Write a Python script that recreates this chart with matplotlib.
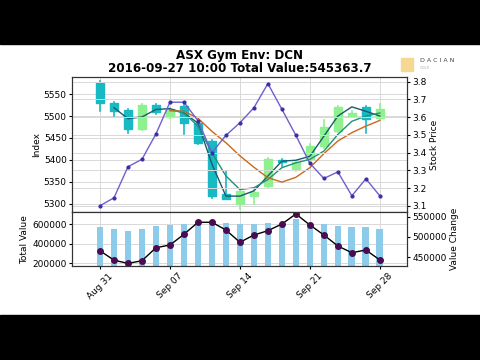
import numpy as np
import matplotlib
matplotlib.use('Agg')
import matplotlib.pyplot as plt
from matplotlib.patches import Rectangle

# trading days, Aug 31 -> Sep 28 2016
days = ['Aug 31', 'Sep 01', 'Sep 02', 'Sep 05', 'Sep 06', 'Sep 07', 'Sep 08', 'Sep 09',
        'Sep 12', 'Sep 13', 'Sep 14', 'Sep 15', 'Sep 16', 'Sep 19', 'Sep 20', 'Sep 21',
        'Sep 22', 'Sep 23', 'Sep 26', 'Sep 27', 'Sep 28']
tick_days = ['Aug 31', 'Sep 07', 'Sep 14', 'Sep 21', 'Sep 28']

# index candles (left axis)
idx_open = [5576, 5530, 5513, 5471, 5525, 5498, 5523, 5484, 5443, 5322, 5298,
            5318, 5340, 5400, 5378, 5401, 5431, 5466, 5500, 5521, 5496]
idx_close = [5530, 5511, 5471, 5525, 5510, 5515, 5484, 5439, 5317, 5311, 5329,
             5326, 5401, 5396, 5395, 5432, 5476, 5521, 5508, 5494, 5515]
idx_high = [5580, 5532, 5517, 5527, 5527, 5518, 5525, 5486, 5445, 5374, 5331,
            5330, 5403, 5401, 5398, 5435, 5490, 5523, 5512, 5523, 5527]
idx_low = [5511, 5501, 5462, 5469, 5504, 5496, 5458, 5436, 5313, 5310, 5287,
           5300, 5338, 5385, 5375, 5398, 5428, 5463, 5498, 5462, 5494]

# moving averages (start at different days)
ma_fast = [5519, 5494, 5498, 5515, 5517, 5507, 5484, 5390, 5317, 5317, 5329,
           5363, 5397, 5399, 5408, 5454, 5500, 5521, 5511, 5500]
ma_mid = [5515, 5507, 5477, 5416, 5363, 5332, 5336, 5355, 5382, 5393, 5401,
          5420, 5458, 5488, 5500, 5507]
ma_slow = [5512, 5511, 5495, 5465, 5439, 5409, 5383, 5359, 5349, 5360, 5382,
           5414, 5443, 5462, 5477, 5490]

# stock price (right axis)
price = [3.10, 3.145, 3.32, 3.362, 3.505, 3.684, 3.684, 3.58, 3.40, 3.497, 3.568,
         3.653, 3.789, 3.644, 3.497, 3.339, 3.254, 3.291, 3.156, 3.252, 3.156]

# bottom panel
total_value = [572000, 549000, 531000, 546000, 579000, 587000, 600000, 607000,
               607000, 607000, 597000, 600000, 613000, 613000, 650000, 607000,
               600000, 583000, 566000, 572000, 549000]
value_change = [466000, 443000, 435000, 441600, 473600, 480300, 506600, 536200,
                536200, 517200, 487000, 504900, 515500, 532000, 556600, 529600,
                504900, 477800, 461300, 468000, 443400]

n = len(days)
x = np.arange(n)
tick_pos = [days.index(d) for d in tick_days]

teal = '#17b9c2'
lgreen = '#8ff08f'

fig = plt.figure(figsize=(4.8, 3.6), dpi=100)

# video letterbox
fig.add_artist(Rectangle((0, 1-44/360.), 1, 44/360., transform=fig.transFigure, color='black', zorder=-5))
fig.add_artist(Rectangle((0, 0), 1, 45/360., transform=fig.transFigure, color='black', zorder=-5))

fig.text(0.5, 1-55.5/360., 'ASX Gym Env: DCN', ha='center', va='center', fontsize=8.6, fontweight='bold')
fig.text(0.5, 1-68.5/360., '2016-09-27 10:00 Total Value:545363.7', ha='center', va='center', fontsize=8.6, fontweight='bold')

# logo
fig.add_artist(Rectangle((401/480., 1-71/360.), 12/480., 13/360., transform=fig.transFigure, color='#f5d992', zorder=1))
fig.text(420/480., 1-61/360., 'D A C I A N', fontsize=4.5, color='#444444', va='center')
fig.text(420/480., 1-68/360., 'GOLD', fontsize=2.5, color='#aaaaaa', va='center')

ax1 = fig.add_axes([0.1506, 0.4103, 0.697, 0.3767])
ax2 = ax1.twinx()
ax3 = fig.add_axes([0.1506, 0.2611, 0.697, 0.1492], sharex=ax1)
ax4 = ax3.twinx()

w = 0.55
for i in range(n):
	col = lgreen if idx_close[i] >= idx_open[i] else teal
	ax1.plot([x[i], x[i]], [idx_low[i], idx_high[i]], color=col, lw=1.2, zorder=2)
	lo = min(idx_open[i], idx_close[i])
	h = abs(idx_close[i]-idx_open[i])
	ax1.add_patch(Rectangle((x[i]-w/2, lo), w, max(h, 1.5), color=col, zorder=2))

ax1.plot(x[1:], ma_fast, color='#1a5a6e', lw=1.0, zorder=3)
ax1.plot(x[5:], ma_mid, color='#22917a', lw=1.0, zorder=3)
ax1.plot(x[5:], ma_slow, color='#c8691c', lw=1.0, zorder=3)

ax1.set_ylim(5280, 5590)
ax1.set_yticks([5300, 5350, 5400, 5450, 5500, 5550])
ax1.set_ylabel('Index', fontsize=6.5, labelpad=2)
ax1.grid(True, color='#d8d8d8', lw=0.7)
ax1.tick_params(labelsize=6.5, length=2, pad=2)
plt.setp(ax1.get_xticklabels(), visible=False)

ax2.plot(x, price, color='#6f5fd0', lw=1.0, marker='o', markersize=2, markerfacecolor='#3a2fa8', markeredgecolor='#3a2fa8')
ax2.set_ylim(3.063, 3.828)
ax2.set_yticks([3.1, 3.2, 3.3, 3.4, 3.5, 3.6, 3.7, 3.8])
ax2.set_ylabel('Stock Price', fontsize=6.5, labelpad=2)
ax2.grid(True, color='#d8d8d8', lw=0.7)
ax2.tick_params(labelsize=6.5, length=2, pad=2)

ax3.bar(x, total_value, width=0.48, color='#8ccbea', zorder=2)
ax3.set_ylim(172000, 720000)
ax3.set_yticks([200000, 400000, 600000])
ax3.set_ylabel('Total Value', fontsize=6.5, labelpad=2)
ax3.grid(True, color='#d8d8d8', lw=0.7)
ax3.tick_params(labelsize=6.5, length=2, pad=2)

ax4.plot(x, value_change, color='black', lw=1.0, marker='o', markersize=4, markerfacecolor='#4a0c4e', markeredgecolor='#4a0c4e')
ax4.set_ylim(428600, 560800)
ax4.set_yticks([450000, 500000, 550000])
ax4.set_ylabel('Value Change', fontsize=6.5, labelpad=2)
ax4.tick_params(labelsize=6.5, length=2, pad=2)

ax1.set_xlim(-1.98, 21.93)
ax3.set_xticks(tick_pos)
ax3.set_xticklabels(tick_days, rotation=45, ha='center', fontsize=6.5)

for a in [ax1, ax2, ax3, ax4]:
	for s in a.spines.values():
		s.set_color('#333333')

fig.savefig('out.png', dpi=100)
